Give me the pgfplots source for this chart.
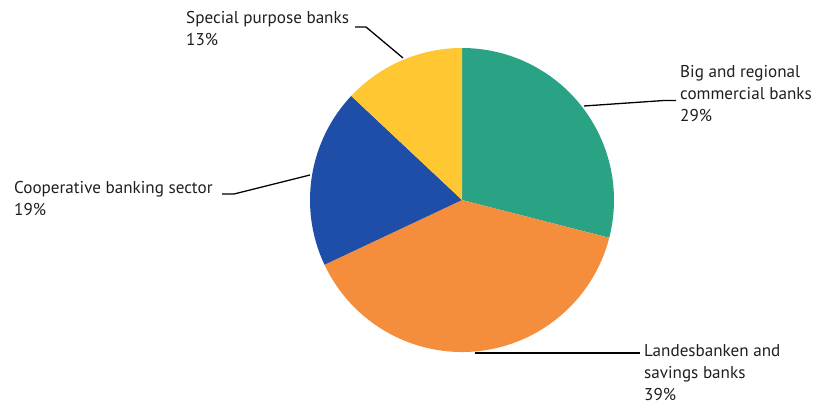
\documentclass[border=0pt]{standalone}
\usepackage{pgfplots}
\usepackage{pgfplotstable}
\pgfplotsset{compat=1.18}
\usepackage{fontspec}
\setmainfont{PT Sans}
\definecolor{pgreen}{HTML}{2AA384}
\definecolor{porange}{HTML}{F58E3C}
\definecolor{pblue}{HTML}{1F4EA8}
\definecolor{pyellow}{HTML}{FFC732}
\pgfplotstableread{
label value
Big 29
Landes 39
Coop 19
Special 13
}\pietable
\pgfplotstablegetelem{0}{value}\of\pietable \let\va\pgfplotsretval
\pgfplotstablegetelem{1}{value}\of\pietable \let\vb\pgfplotsretval
\pgfplotstablegetelem{2}{value}\of\pietable \let\vc\pgfplotsretval
\pgfplotstablegetelem{3}{value}\of\pietable \let\vd\pgfplotsretval
\pgfmathsetmacro\aA{90-3.6*\va}
\pgfmathsetmacro\aB{\aA-3.6*\vb}
\pgfmathsetmacro\aC{\aB-3.6*\vc}
\pgfmathsetmacro\aD{\aC-3.6*\vd}
\def\cx{462}\def\cy{204}\def\R{152}
\begin{document}
\begin{tikzpicture}
\path[use as bounding box] (0,0) rectangle (815pt,404pt);
\begin{axis}[
  at={(0,0)}, anchor=origin,
  scale only axis, width=815pt, height=404pt,
  xmin=0, xmax=815, ymin=0, ymax=404,
  hide axis, clip=false,
]
\fill[pgreen]  (axis cs:\cx,\cy) -- ++(90:\R pt) arc[start angle=90, end angle=\aA, radius=\R pt] -- cycle;
\fill[porange] (axis cs:\cx,\cy) -- ++(\aA:\R pt) arc[start angle=\aA, end angle=\aB, radius=\R pt] -- cycle;
\fill[pblue]   (axis cs:\cx,\cy) -- ++(\aB:\R pt) arc[start angle=\aB, end angle=\aC, radius=\R pt] -- cycle;
\fill[pyellow] (axis cs:\cx,\cy) -- ++(\aC:\R pt) arc[start angle=\aC, end angle=\aD, radius=\R pt] -- cycle;
% leader lines
\draw[black, line width=1.3pt] (axis cs:403,346) -- (axis cs:366,377) -- (axis cs:355,377);
\draw[black, line width=1.3pt] (axis cs:584,298) -- (axis cs:664,303.5) -- (axis cs:676,303.5);
\draw[black, line width=1.3pt] (axis cs:310,229) -- (axis cs:234,210) -- (axis cs:222,210);
\draw[black, line width=1.3pt] (axis cs:475,51) -- (axis cs:640,51);
% labels (anchor = baseline of last line)
\tikzset{lab/.style={anchor=base west, align=left, inner sep=0pt, text=black!88,
  font=\fontsize{17.1}{22}\selectfont}}
\node[lab] at (axis cs:186,358) {Special purpose banks\\13\%};
\node[lab] at (axis cs:680,282) {Big and regional\\commercial banks\\29\%};
\node[lab] at (axis cs:14,188) {Cooperative banking sector\\19\%};
\node[lab] at (axis cs:644,3.5) {Landesbanken and\\savings banks\\39\%};
\end{axis}
\end{tikzpicture}
\end{document}
